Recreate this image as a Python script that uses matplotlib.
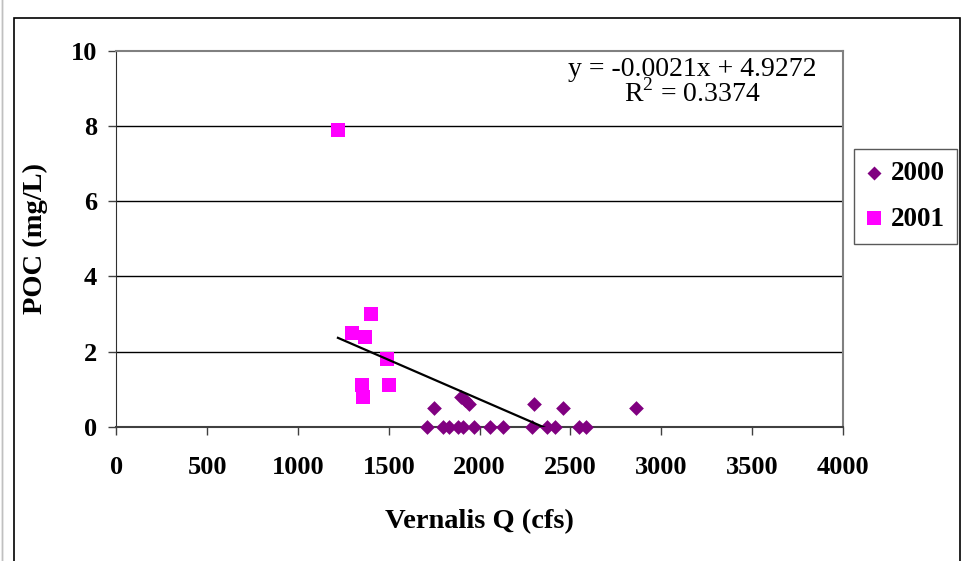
import matplotlib.pyplot as plt
from matplotlib.patches import Rectangle

# Vernalis flow (cfs) and POC (mg/L)
q_2000 = [1710, 1748, 1796, 1831, 1882, 1899, 1909, 1921, 1943, 1970, 2058, 2130,
          2289, 2300, 2369, 2414, 2460, 2546, 2583, 2860]
poc_2000 = [0, 0.5, 0, 0, 0, 0.8, 0, 0.7, 0.6, 0, 0, 0,
            0, 0.6, 0, 0, 0.5, 0, 0, 0.5]
q_2001 = [1220, 1299, 1351, 1359, 1370, 1400, 1490, 1499]
poc_2001 = [7.9, 2.5, 1.1, 0.8, 2.4, 3.0, 1.8, 1.1]

slope = -0.0021
intercept = 4.9272
r2 = 0.3374

x_ticks = [0, 500, 1000, 1500, 2000, 2500, 3000, 3500, 4000]
y_ticks = [0, 2, 4, 6, 8, 10]

plt.rcParams['font.family'] = ['Liberation Serif', 'DejaVu Serif']
plt.rcParams['mathtext.fontset'] = 'custom'
plt.rcParams['mathtext.rm'] = 'Liberation Serif'

fig = plt.figure(figsize=(9.72, 5.61), dpi=100)
fig.patches.append(Rectangle((14 / 972, -0.05), (960 - 14) / 972, 1.05 - 18 / 561,
                             transform=fig.transFigure, fill=False, edgecolor='black',
                             linewidth=1.2))
fig.patches.append(Rectangle((2 / 972, -0.05), 0, 1.1, transform=fig.transFigure,
                             fill=False, edgecolor='#c0c0c0', linewidth=1))

ax = fig.add_axes([116.3 / 972, 1 - 426.7 / 561, (843 - 116.3) / 972, (426.7 - 51) / 561])

for y in y_ticks[1:-1]:
    ax.axhline(y, color='black', linewidth=1, zorder=1)

ax.scatter(q_2000, poc_2000, marker='D', s=7.5 ** 2, color='#800080', zorder=3,
           clip_on=False, label='2000', linewidths=0)
ax.scatter(q_2001, poc_2001, marker='s', s=10.5 ** 2, color='#FF00FF', zorder=3,
           clip_on=False, label='2001', linewidths=0)

all_q = q_2000 + q_2001
xs = [min(all_q), max(all_q)]
ax.plot(xs, [slope * x + intercept for x in xs], color='black', linewidth=1.6, zorder=4)

ax.set_xlim(0, 4000)
ax.set_ylim(0, 10)
ax.set_xticks(x_ticks)
ax.set_yticks(y_ticks)
ax.tick_params(direction='out', length=6, width=1, colors='#404040', labelcolor='black',
               labelsize=19)
ax.tick_params(axis='x', pad=15)
ax.tick_params(axis='y', pad=8)
for lab in ax.get_xticklabels() + ax.get_yticklabels():
    lab.set_fontweight('bold')

for side in ['top', 'right']:
    ax.spines[side].set_color('#808080')
    ax.spines[side].set_linewidth(1.5)
ax.spines['left'].set_color('#303030')
ax.spines['bottom'].set_color('#404040')
ax.spines['bottom'].set_linewidth(1.5)

ax.set_xlabel('Vernalis Q (cfs)', fontsize=20.5, fontweight='bold', labelpad=22)
ax.set_ylabel('POC (mg/L)', fontsize=20.5, fontweight='bold', labelpad=16)

ax.text(692 / 972, 1 - 69 / 561, 'y = -0.0021x + 4.9272', transform=fig.transFigure,
        ha='center', va='center', fontsize=20)
ax.text(692 / 972, 1 - 93 / 561, r'R$^{\mathregular{2}}$ = %.4f' % r2, transform=fig.transFigure,
        ha='center', va='center', fontsize=20)

leg = fig.legend(loc='upper left', bbox_to_anchor=(854 / 972, 1 - 149 / 561),
                 borderaxespad=0, frameon=True, fancybox=False, edgecolor='#303030',
                 prop={'weight': 'bold', 'size': 19.5}, handletextpad=0.3,
                 handlelength=0.6, borderpad=0.45, labelspacing=0.75,
                 markerscale=0.95)
leg.get_frame().set_linewidth(1)

fig.savefig('out.png', dpi=100)
